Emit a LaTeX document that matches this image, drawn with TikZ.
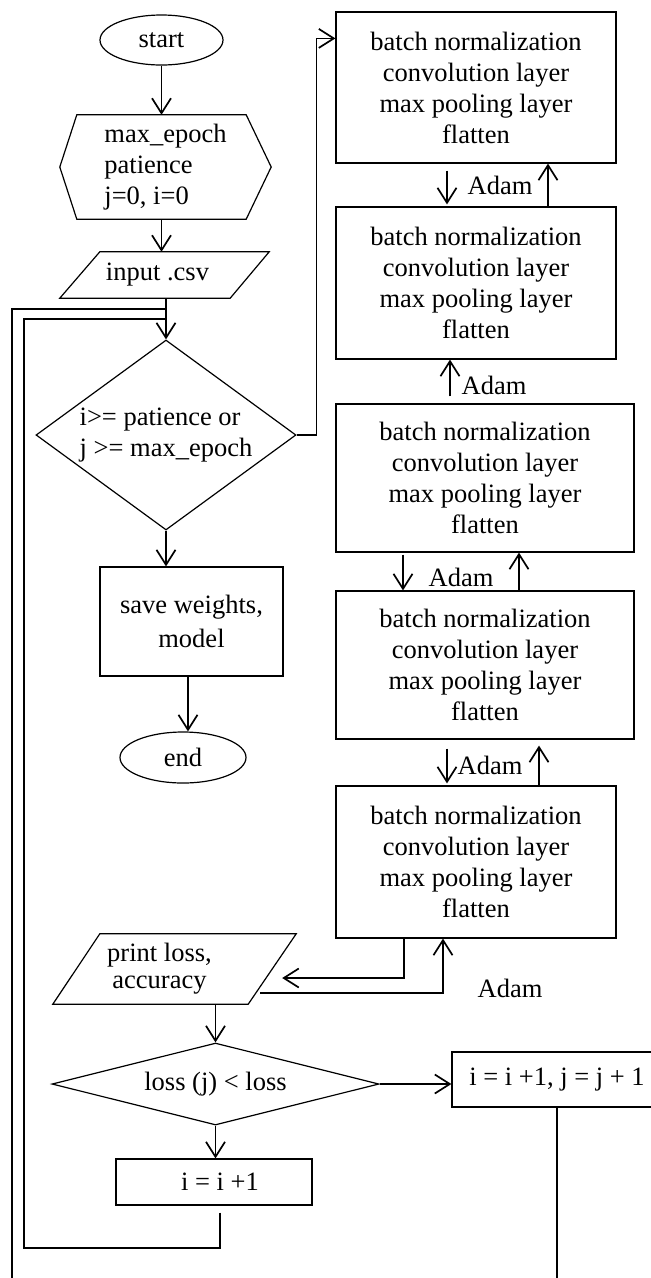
\documentclass[tikz,border=0pt]{standalone}
\usepackage{fontspec}
\setmainfont{Liberation Serif}
\usetikzlibrary{arrows.meta,shapes.geometric,calc}
\begin{document}
\begin{tikzpicture}[x=1pt,y=-1pt,
  font=\fontsize{26.5}{31}\selectfont,
  shp/.style={draw, line width=1.2pt, inner sep=0pt},
  box/.style={shp, rectangle, align=center},
  term/.style={shp, ellipse},
  ghost/.style={inner sep=0pt, align=left},
  conn/.style={line width=1.7pt},
  arr/.style={conn, -{Straight Barb[length=15pt,width=19pt]}},
  lbl/.style={inner sep=0pt}
]
\useasboundingbox (0,0) rectangle (651,1278);
\clip (0,0) rectangle (651,1278);

% left column
\node[term, minimum width=123, minimum height=50] (start) at (161.5,40) {start};
\node[ghost, minimum width=211, minimum height=104] (init) at (165.5,167) {max\_epoch\\patience\\j=0, i=0};
\draw[shp] (init.west) -- ([xshift=17pt]init.north west) -- ([xshift=-25pt]init.north east) -- (init.east) -- ([xshift=-25pt]init.south east) -- ([xshift=17pt]init.south west) -- cycle;
\node[ghost, align=center, minimum width=209, minimum height=46] (input) at (164.5,275) {\hspace*{-14pt}input .csv};
\draw[shp] ([xshift=40pt]input.north west) -- (input.north east) -- ([xshift=-39pt]input.south east) -- (input.south west) -- cycle;
\node[shp, diamond, aspect=1.4, minimum width=260, minimum height=190, align=left] (d1) at (166,435) {i>= patience or\\j >= max\_epoch};
\node[box, minimum width=183, minimum height=109, font=\fontsize{26.5}{34}\selectfont] (save) at (191.5,621.5) {save weights,\\model};
\node[term, minimum width=126, minimum height=51] (end) at (183,757.5) {end};

% right column
\node[box, minimum width=280, minimum height=151] (b1) at (476,87.5) {batch normalization\\convolution layer\\max pooling layer\\flatten};
\node[box, minimum width=280, minimum height=152] (b2) at (476,283) {batch normalization\\convolution layer\\max pooling layer\\flatten};
\node[box, minimum width=298, minimum height=148] (b3) at (485,478) {batch normalization\\convolution layer\\max pooling layer\\flatten};
\node[box, minimum width=298, minimum height=148] (b4) at (485,665) {batch normalization\\convolution layer\\max pooling layer\\flatten};
\node[box, minimum width=280, minimum height=152] (b5) at (476,862) {batch normalization\\convolution layer\\max pooling layer\\flatten};

\node[lbl] (a12) at (500,185) {Adam};
\node[lbl] (a23) at (494,385) {Adam};
\node[lbl] (a34) at (461,577) {Adam};
\node[lbl] (a45) at (490,765) {Adam};
\node[lbl] (a5p) at (510,988) {Adam};

% bottom part
\node[ghost, align=center, minimum width=243, minimum height=70, font=\fontsize{26.5}{27}\selectfont] (pl) at (174.5,969) {\hspace*{-30pt}print loss,\\\hspace*{-30pt}accuracy};
\draw[shp] ([xshift=47pt]pl.north west) -- (pl.north east) -- ([xshift=-48pt]pl.south east) -- (pl.south west) -- cycle;
\node[shp, diamond, aspect=4, minimum width=327, minimum height=82] (d2) at (215.5,1084) {loss (j) < loss};
\node[box, minimum width=196, minimum height=46] (ibox) at (214,1182) {\hspace*{12pt}i = i +1};
\node[box, minimum width=210, minimum height=55] (rbox) at (557,1079.5) {i = i +1, j = j + 1};

% coordinates
\coordinate (j1) at ($(d1.north |- input.south)+(0,11)$);
\coordinate (j2) at ($(d1.north |- input.south)+(0,21)$);
\coordinate (b1in) at ($(b1.north west)+(0,27)$);
\coordinate (plin) at ($(pl.east)+(-14,9)$);
\coordinate (plout) at ($(pl.east)+(-36,24)$);
\coordinate (li) at (24,1248);
\coordinate (lo) at (12,1295);

% connectors left
\draw[arr] (start.south) -- (start.south |- init.north);
\draw[arr] (start.south |- init.south) -- (start.south |- input.north);
\draw[arr] (d1.north |- input.south) -- (d1.north);
\draw[arr] (d1.east) -- ++(20,0) |- (b1in);
\draw[arr] (d1.south) -- (d1.south |- save.north);
\draw[arr] ($(save.south)+(-3.5,0)$) -- ($(save.south |- end.north)+(-3.5,0)$);

% connectors between layer boxes
\draw[arr] ($(b1.south)+(-29,7)$) -- ($(b1.south |- b2.north)+(-29,-2)$);
\draw[arr] ($(b2.north)+(72,0)$) -- ($(b2.north |- b1.south)+(72,0)$);
\draw[arr] ($(b3.north)+(-35,-7)$) -- ($(b3.north |- b2.south)+(-35,0)$);
\draw[arr] ($(b3.south)+(-82,2)$) -- ($(b3.south |- b4.north)+(-82,0)$);
\draw[arr] ($(b4.north)+(34,0)$) -- ($(b4.north |- b3.south)+(34,0)$);
\draw[arr] ($(b4.south)+(-38,9)$) -- ($(b4.south |- b5.north)+(-38,-2)$);
\draw[arr] ($(b5.north)+(63,0)$) -- ($(b5.north |- b4.south)+(63,6)$);

% connectors bottom
\draw[arr] ($(b5.south)+(-72,0)$) |- (plin);
\draw[arr] (plout) -| ($(b5.south)+(-33,0)$);
\draw[arr] (d2.north |- pl.south) -- (d2.north);
\draw[arr] (d2.east) -- (d2.east -| rbox.west);
\draw[arr] (d2.south) -- (d2.south |- ibox.north);
\draw[conn] ($(ibox.south)+(6,7)$) |- (li) |- (j2);
\draw[conn] (rbox.south) |- (lo) |- (j1);
\end{tikzpicture}
\end{document}
